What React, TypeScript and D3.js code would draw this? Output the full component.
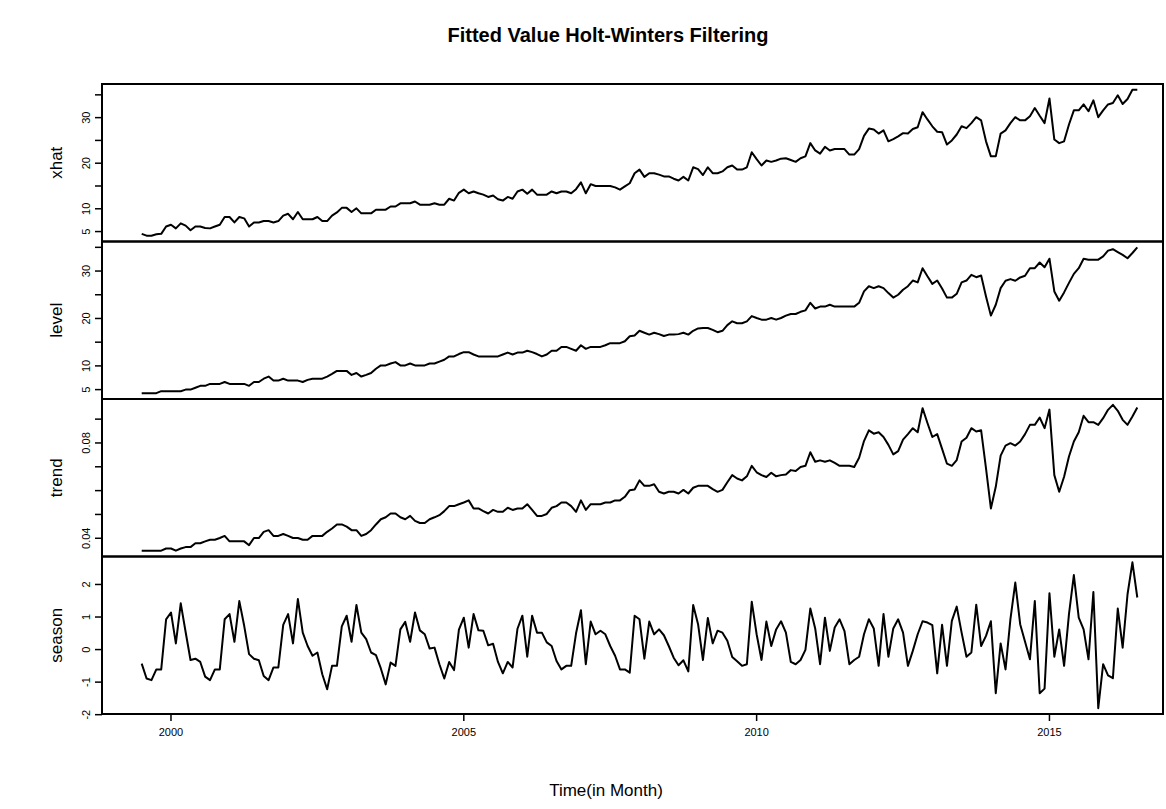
import React from 'react';
import * as d3 from 'd3';

// ---------- data ----------
const startYear = 1999.5;
const frequency = 12;

const xhat = [
  4.5, 4.1, 4.1, 4.4, 4.5, 6.1, 6.5, 5.7, 6.8, 6.3,
  5.3, 6.1, 6.1, 5.8, 5.7, 6.1, 6.5, 8.2, 8.2, 7.0,
  8.2, 7.9, 6.1, 7.0, 7.0, 7.3, 7.3, 7.0, 7.3, 8.5,
  8.9, 7.7, 9.3, 7.7, 7.7, 7.7, 8.2, 7.3, 7.3, 8.5,
  9.2, 10.2, 10.2, 9.3, 10.1, 9.0, 9.0, 9.0, 9.8, 9.8,
  9.8, 10.5, 10.5, 11.2, 11.2, 11.2, 11.6, 10.9, 10.9, 10.9,
  11.2, 10.9, 10.9, 12.2, 11.8, 13.5, 14.2, 13.4, 13.8, 13.4,
  13.1, 12.6, 12.9, 12.1, 11.8, 12.6, 12.2, 13.8, 14.2, 13.3,
  14.2, 13.1, 13.1, 13.1, 13.8, 13.4, 13.8, 13.8, 13.4, 14.3,
  15.8, 13.4, 15.4, 15.0, 15.0, 15.0, 15.0, 14.7, 14.2, 14.9,
  15.6, 17.8, 18.6, 17.0, 17.8, 17.8, 17.5, 17.1, 17.1, 16.6,
  16.2, 17.0, 16.2, 19.1, 18.7, 17.4, 19.1, 17.8, 17.8, 18.2,
  19.1, 19.5, 18.6, 18.6, 19.1, 22.4, 20.9, 19.5, 20.6, 20.3,
  20.6, 21.0, 21.1, 20.7, 20.3, 21.1, 21.5, 24.4, 22.8, 22.1,
  23.6, 22.8, 23.1, 23.1, 23.1, 21.9, 21.9, 23.1, 26.0, 27.6,
  27.4, 26.5, 27.2, 24.8, 25.3, 25.9, 26.6, 26.5, 27.5, 27.9,
  31.2, 29.6, 28.1, 26.9, 26.8, 24.1, 25.0, 26.3, 28.1, 27.7,
  28.8, 30.1, 29.4, 24.8, 21.5, 21.5, 26.5, 27.2, 28.8, 30.1,
  29.4, 29.4, 30.3, 32.1, 30.4, 28.8, 34.2, 25.2, 24.4, 24.8,
  28.5, 31.6, 31.6, 32.9, 31.4, 33.8, 30.1, 31.6, 32.9, 33.2,
  34.9, 33.0, 34.1, 36.1, 36.1,
];

const level = [
  4.25, 4.25, 4.25, 4.25, 4.67, 4.67, 4.67, 4.67, 4.67, 5.0,
  5.0, 5.4, 5.8, 5.8, 6.2, 6.2, 6.2, 6.6, 6.2, 6.2,
  6.2, 6.2, 5.8, 6.6, 6.6, 7.3, 7.75, 6.9, 6.9, 7.3,
  6.9, 6.9, 6.9, 6.6, 7.05, 7.3, 7.3, 7.3, 7.75, 8.3,
  8.95, 8.95, 8.95, 8.1, 8.5, 7.75, 8.1, 8.5, 9.4, 10.1,
  10.1, 10.5, 10.8, 10.1, 10.1, 10.5, 10.1, 10.1, 10.1, 10.5,
  10.5, 10.9, 11.3, 12.0, 12.0, 12.5, 12.9, 12.9, 12.4, 12.0,
  12.0, 12.0, 12.0, 12.0, 12.4, 12.8, 12.4, 12.8, 12.8, 13.2,
  12.9, 12.5, 12.0, 12.4, 13.2, 13.2, 14.0, 14.0, 13.6, 13.2,
  14.35, 13.6, 14.0, 14.0, 14.0, 14.35, 14.8, 14.8, 14.8, 15.2,
  16.25, 16.4, 17.4, 17.0, 16.6, 17.0, 16.7, 16.3, 16.6, 16.6,
  16.7, 17.0, 16.6, 17.4, 17.9, 18.0, 18.0, 17.6, 17.1, 17.4,
  18.6, 19.4, 19.0, 19.0, 19.4, 20.5, 20.1, 19.75, 19.75, 20.1,
  19.75, 20.1, 20.6, 20.95, 20.95, 21.4, 21.7, 23.3, 22.1, 22.5,
  22.5, 22.9, 22.5, 22.5, 22.5, 22.5, 22.5, 23.3, 25.7, 26.8,
  26.4, 26.8, 26.4, 25.35, 24.4, 25.0, 26.05, 26.8, 28.0, 27.6,
  30.6, 28.9, 27.3, 28.0, 26.3, 24.4, 24.4, 25.2, 27.6, 28.0,
  29.2, 28.7, 29.05, 24.65, 20.6, 22.9, 26.4, 27.96, 28.3, 27.96,
  28.65, 29.0, 30.6, 30.6, 31.8, 30.8, 32.6, 25.7, 23.75, 25.5,
  27.5, 29.4, 30.6, 32.6, 32.4, 32.4, 32.4, 33.1, 34.3, 34.6,
  34.0, 33.4, 32.7, 33.8, 35.0,
];

const trend = [
  0.0348, 0.0348, 0.0348, 0.0348, 0.0348, 0.0357, 0.0357, 0.0348, 0.0357, 0.0363,
  0.0363, 0.0379, 0.0379, 0.0387, 0.0394, 0.0394, 0.0401, 0.041, 0.0387, 0.0387,
  0.0387, 0.0387, 0.0371, 0.0401, 0.0401, 0.0427, 0.0434, 0.041, 0.041, 0.0418,
  0.041, 0.0401, 0.0401, 0.0394, 0.0394, 0.041, 0.041, 0.041, 0.0427, 0.0441,
  0.0458, 0.0458, 0.0449, 0.0434, 0.0434, 0.041, 0.0418, 0.0434, 0.0458, 0.048,
  0.0488, 0.0504, 0.0504, 0.0488, 0.048, 0.0494, 0.0473, 0.0464, 0.0464, 0.048,
  0.0488, 0.0497, 0.0514, 0.0535, 0.0535, 0.0543, 0.055, 0.0559, 0.0525, 0.0525,
  0.0514, 0.0504, 0.0519, 0.0511, 0.0511, 0.0528, 0.0519, 0.0525, 0.0525, 0.0543,
  0.0519, 0.0494, 0.0494, 0.0502, 0.0528, 0.0535, 0.055, 0.055, 0.0535, 0.0511,
  0.0559, 0.0519, 0.0543, 0.0543, 0.0543, 0.055, 0.055, 0.0559, 0.0559, 0.0574,
  0.0602, 0.0605, 0.0643, 0.062, 0.062, 0.0627, 0.0595, 0.0588, 0.0595, 0.0595,
  0.0588, 0.0603, 0.0588, 0.0612, 0.062, 0.062, 0.062, 0.0606, 0.0595, 0.0603,
  0.0635, 0.0665, 0.0651, 0.0643, 0.066, 0.0704, 0.0677, 0.0665, 0.0657, 0.0675,
  0.066, 0.0665, 0.0668, 0.0686, 0.0682, 0.0699, 0.0704, 0.0761, 0.0721, 0.0727,
  0.0721, 0.0727, 0.0716, 0.0704, 0.0704, 0.0704, 0.0699, 0.0738, 0.0808, 0.0853,
  0.0839, 0.0845, 0.0825, 0.0792, 0.0752, 0.0766, 0.0814, 0.0837, 0.0862, 0.0845,
  0.0946, 0.0884, 0.0825, 0.0837, 0.0775, 0.0713, 0.0704, 0.0728, 0.0806, 0.0822,
  0.0862, 0.0848, 0.0853, 0.0693, 0.0525, 0.0616, 0.0747, 0.0789, 0.0799, 0.0789,
  0.0806, 0.0837, 0.0876, 0.0876, 0.0907, 0.0862, 0.094, 0.0665, 0.0595, 0.0658,
  0.0743, 0.0806, 0.0845, 0.0914, 0.0887, 0.0887, 0.0876, 0.0904, 0.0939, 0.096,
  0.0935, 0.0897, 0.0876, 0.0911, 0.0949,
];

const season = [
  -0.43, -0.89, -0.94, -0.61, -0.61, 0.93, 1.14, 0.19, 1.42, 0.54,
  -0.32, -0.28, -0.38, -0.83, -0.94, -0.61, -0.61, 0.93, 1.09, 0.24,
  1.49, 0.73, -0.14, -0.28, -0.33, -0.81, -0.94, -0.55, -0.55, 0.76,
  1.09, 0.19, 1.55, 0.52, 0.11, -0.19, -0.09, -0.76, -1.22, -0.5,
  -0.5, 0.71, 1.04, 0.24, 1.37, 0.52, 0.32, -0.09, -0.17, -0.58,
  -1.07, -0.4, -0.5, 0.62, 0.85, 0.24, 1.14, 0.59, 0.47, 0.03,
  0.06, -0.45, -0.89, -0.38, -0.63, 0.61, 0.98, 0.06, 1.09, 0.59,
  0.58, 0.13, 0.18, -0.38, -0.73, -0.38, -0.55, 0.64, 1.04, -0.22,
  1.04, 0.52, 0.52, 0.22, 0.11, -0.35, -0.61, -0.5, -0.5, 0.5,
  1.21, -0.45, 0.86, 0.47, 0.58, 0.47, 0.11, -0.19, -0.61, -0.61,
  -0.71, 1.04, 0.93, -0.28, 0.86, 0.47, 0.62, 0.44, 0.11, -0.25,
  -0.48, -0.33, -0.67, 1.37, 0.78, -0.32, 0.97, 0.19, 0.58, 0.52,
  0.27, -0.23, -0.36, -0.5, -0.45, 1.47, 0.47, -0.32, 0.86, 0.11,
  0.62, 0.87, 0.52, -0.38, -0.45, -0.32, -0.01, 1.26, 0.65, -0.45,
  0.98, -0.04, 0.68, 0.93, 0.57, -0.45, -0.32, -0.22, 0.47, 0.93,
  0.65, -0.5, 1.09, -0.22, 0.65, 0.93, 0.52, -0.5, -0.04, 0.47,
  0.87, 0.83, 0.75, -0.73, 0.76, -0.5, 0.88, 1.32, 0.52, -0.22,
  -0.09, 1.38, 0.11, 0.42, 0.87, -1.34, 0.19, -0.61, 0.93, 2.06,
  0.78, 0.24, -0.3, 1.49, -1.34, -1.2, 1.73, -0.22, 0.62, -0.5,
  1.09, 2.29, 0.98, 0.62, -0.3, 1.77, -1.8, -0.45, -0.79, -0.88,
  1.26, 0.06, 1.7, 2.68, 1.6,
];

const panelNames = ['xhat', 'level', 'trend', 'season'];
const panelSeries = [xhat, level, trend, season];

const xTicks = [2000, 2005, 2010, 2015];
const xhatTicks = [5, 10, 15, 20, 25, 30, 35];
const xhatTickLabels = ['5', '10', '', '20', '', '30', ''];
const levelTicks = [5, 10, 15, 20, 25, 30, 35];
const levelTickLabels = ['5', '10', '', '20', '', '30', ''];
const trendTicks = [0.04, 0.05, 0.06, 0.07, 0.08, 0.09];
const trendTickLabels = ['0.04', '', '', '', '0.08', ''];
const seasonTicks = [-2, -1, 0, 1, 2];
const seasonTickLabels = ['-2', '-1', '0', '1', '2'];

const panelTicks = [xhatTicks, levelTicks, trendTicks, seasonTicks];
const panelTickLabels = [xhatTickLabels, levelTickLabels, trendTickLabels, seasonTickLabels];

const titleText = 'Fitted Value Holt-Winters Filtering';
const xLabelText = 'Time(in Month)';

// ---------- layout ----------
const W = 1166;
const H = 809;
const boxLeft = 102;
const boxRight = 1163;
const firstX = 141.7;
const lastX = 1137.3;
const panelTop = 84;
const panelH = 157.5;
const titleX = 608;
const xLabelX = 606;
const FONT = '"Liberation Sans", Arial, Helvetica, sans-serif';

export default function App() {
  const n = xhat.length;
  const times = d3.range(n).map((i) => startYear + i / frequency);
  const x = d3.scaleLinear().domain([times[0], times[n - 1]]).range([firstX, lastX]);

  const panels = panelSeries.map((vals, p) => {
    const top = panelTop + p * panelH;
    const bottom = top + panelH;
    const [lo, hi] = d3.extent(vals) as [number, number];
    const pad = (hi - lo) * 0.04;
    const y = d3.scaleLinear().domain([lo - pad, hi + pad]).range([bottom, top]);
    const line = d3
      .line<number>()
      .x((_, i) => x(times[i]))
      .y((d) => y(d));
    return { top, bottom, y, path: line(vals) || '', p };
  });

  const lastBottom = panelTop + 4 * panelH;

  return (
    <svg
      width={W}
      height={H}
      style={{ position: 'absolute', left: 0, top: 0, background: '#fff' }}
      fontFamily={FONT}
    >
      <rect x={0} y={0} width={W} height={H} fill="#fff" />
      <defs>
        {panels.map((pn) => (
          <clipPath id={`clip${pn.p}`} key={pn.p}>
            <rect x={boxLeft} y={pn.top} width={boxRight - boxLeft} height={panelH} />
          </clipPath>
        ))}
      </defs>
      <text
        x={titleX}
        y={42}
        textAnchor="middle"
        fontWeight="bold"
        fontSize={20}
        fill="#000"
      >
        {titleText}
      </text>
      {panels.map((pn) => (
        <g key={pn.p}>
          <path
            d={pn.path}
            fill="none"
            stroke="#000"
            strokeWidth={2}
            strokeLinejoin="round"
            clipPath={`url(#clip${pn.p})`}
          />
          <rect
            x={boxLeft}
            y={pn.top}
            width={boxRight - boxLeft}
            height={panelH}
            fill="none"
            stroke="#000"
            strokeWidth={2}
          />
          {panelTicks[pn.p].map((t, k) => {
            const yy = pn.y(t);
            return (
              <g key={k}>
                <line x1={boxLeft} x2={boxLeft - 7} y1={yy} y2={yy} stroke="#000" strokeWidth={1.5} />
                {panelTickLabels[pn.p][k] !== '' && (
                  <text
                    transform={`translate(${boxLeft - 12},${yy}) rotate(-90)`}
                    textAnchor="middle"
                    fontSize={11}
                    fill="#000"
                  >
                    {panelTickLabels[pn.p][k]}
                  </text>
                )}
              </g>
            );
          })}
          <text
            transform={`translate(${boxLeft - 40},${pn.top + panelH / 2}) rotate(-90)`}
            textAnchor="middle"
            fontSize={17}
            fill="#000"
          >
            {panelNames[pn.p]}
          </text>
        </g>
      ))}
      {xTicks.map((t) => (
        <g key={t}>
          <line x1={x(t)} x2={x(t)} y1={lastBottom} y2={lastBottom + 7} stroke="#000" strokeWidth={1.5} />
          <text x={x(t)} y={lastBottom + 22} textAnchor="middle" fontSize={11} fill="#000">
            {t}
          </text>
        </g>
      ))}
      <text x={xLabelX} y={796} textAnchor="middle" fontSize={17} fill="#000">
        {xLabelText}
      </text>
    </svg>
  );
}
